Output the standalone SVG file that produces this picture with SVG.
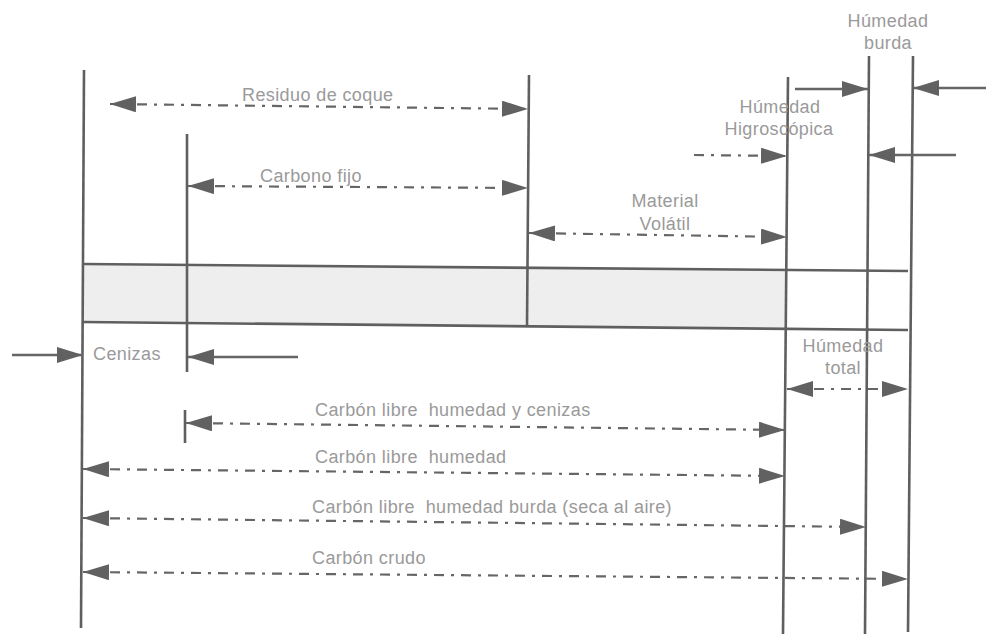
<svg xmlns="http://www.w3.org/2000/svg" width="986" height="634" viewBox="0 0 986 634">
<style>
.v{stroke:#5f5f5f;stroke-width:2.6;fill:none}
.b{stroke:#5f5f5f;stroke-width:2.6;fill:none}
.d{stroke:#666;stroke-width:2.2;fill:none;stroke-dasharray:10 7 3 7}
.s{stroke:#666;stroke-width:2.4;fill:none}
.t{font-family:"Liberation Sans",Arial,sans-serif;font-size:18px;letter-spacing:0.4px;fill:#9a9a9a;white-space:pre}
.c{text-anchor:middle}
</style>
<defs>
<marker id="ah" markerUnits="userSpaceOnUse" markerWidth="26" markerHeight="16" refX="26" refY="8" orient="auto-start-reverse">
<path d="M0,0 L26,8 L0,16 z" fill="#616161"/>
</marker>
</defs>
<rect width="986" height="634" fill="#fff"/>
<g id="band">
<polygon points="83,264 787,270 787,329 83,322" fill="#eeeeee"/>
<line class="b" x1="83" y1="264" x2="908" y2="271"/>
<line class="b" x1="83" y1="322" x2="908" y2="330"/>
</g>
<g id="verticals">
<line id="v1" class="v" x1="84" y1="70" x2="81" y2="628"/>
<line id="v2" class="v" x1="187" y1="134" x2="187" y2="372"/>
<line id="v3" class="v" x1="529" y1="75" x2="527" y2="327"/>
<line id="v4" class="v" x1="788" y1="77" x2="783" y2="634"/>
<line id="v5" class="v" x1="869" y1="56" x2="865" y2="634"/>
<line id="v6" class="v" x1="913" y1="56" x2="908" y2="632"/>
<line id="tick" class="v" x1="185" y1="410" x2="185" y2="443"/>
</g>
<g id="connectors">
<line class="d" x1="110" y1="104" x2="528" y2="109" marker-start="url(#ah)" marker-end="url(#ah)"/>
<line class="d" x1="188" y1="186" x2="528" y2="188" marker-start="url(#ah)" marker-end="url(#ah)"/>
<line class="d" x1="529" y1="233" x2="787" y2="237" marker-start="url(#ah)" marker-end="url(#ah)"/>
<line class="d" x1="694" y1="155" x2="787" y2="156" marker-end="url(#ah)"/>
<line class="s" x1="795" y1="89" x2="868" y2="89" marker-end="url(#ah)"/>
<line class="s" x1="986" y1="88" x2="913" y2="88" marker-end="url(#ah)"/>
<line class="s" x1="956" y1="155" x2="869" y2="155" marker-end="url(#ah)"/>
<line class="s" x1="12" y1="355" x2="83" y2="355" marker-end="url(#ah)"/>
<line class="s" x1="298" y1="357" x2="188" y2="357" marker-end="url(#ah)"/>
<line class="d" x1="787" y1="389" x2="908" y2="389" marker-start="url(#ah)" marker-end="url(#ah)"/>
<line class="d" x1="186" y1="423" x2="785" y2="430" marker-start="url(#ah)" marker-end="url(#ah)"/>
<line class="d" x1="83" y1="469" x2="785" y2="476" marker-start="url(#ah)" marker-end="url(#ah)"/>
<line class="d" x1="83" y1="518" x2="866" y2="527" marker-start="url(#ah)" marker-end="url(#ah)"/>
<line class="d" x1="83" y1="572" x2="908" y2="579" marker-start="url(#ah)" marker-end="url(#ah)"/>
</g>
<g id="labels">
<text class="t" x="242" y="101">Residuo de coque</text>
<text class="t" x="260" y="182">Carbono fijo</text>
<text class="t c" x="665" y="207">Material</text>
<text class="t c" x="665" y="230">Volátil</text>
<text class="t c" x="780" y="113">Húmedad</text>
<text class="t c" x="779" y="135">Higroscópica</text>
<text class="t c" x="888" y="27">Húmedad</text>
<text class="t c" x="888" y="49">burda</text>
<text class="t" x="93" y="360">Cenizas</text>
<text class="t c" x="843" y="352">Húmedad</text>
<text class="t c" x="843" y="374">total</text>
<text class="t" x="315" y="416">Carbón libre  humedad y cenizas</text>
<text class="t" x="315" y="463">Carbón libre  humedad</text>
<text class="t" x="312" y="513">Carbón libre  humedad burda (seca al aire)</text>
<text class="t" x="312" y="564">Carbón crudo</text>
</g>
</svg>
